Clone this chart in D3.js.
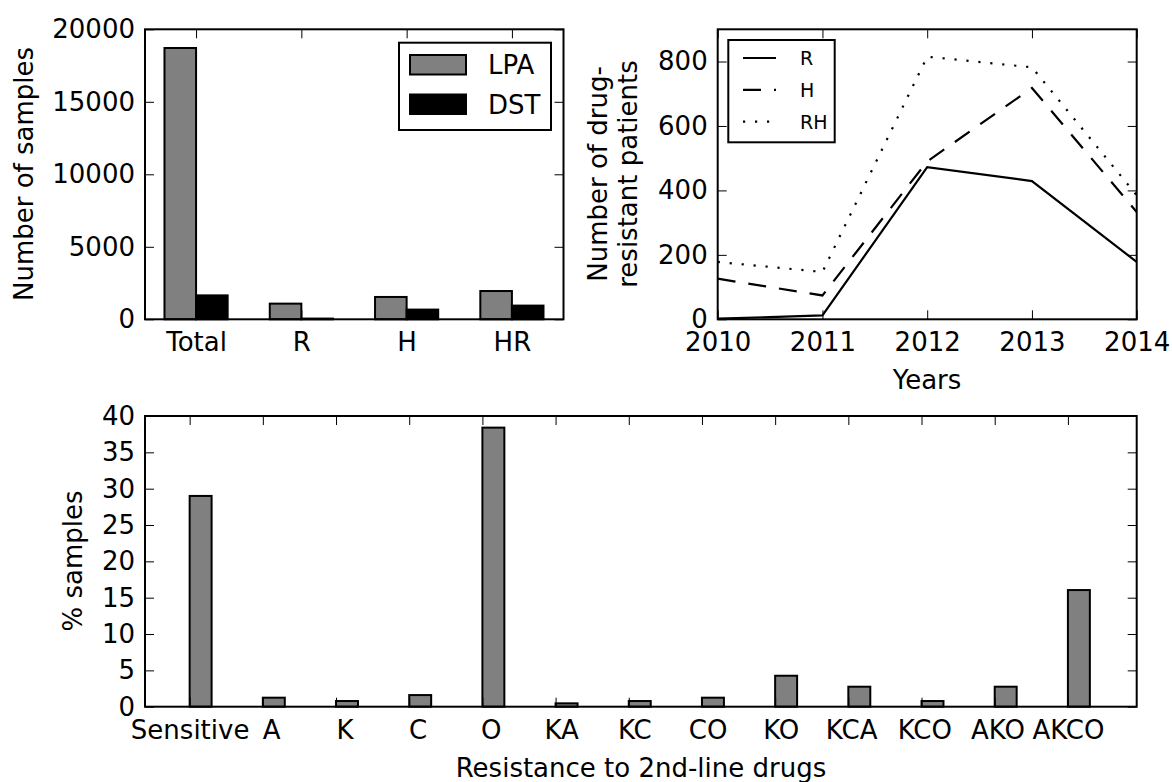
<!DOCTYPE html>
<html>
<head>
<meta charset="utf-8">
<script src="https://cdn.jsdelivr.net/npm/d3@7"></script>
<style>
  body { margin: 0; background: #fff; }
  svg, svg text { font-family: "DejaVu Sans", sans-serif; }
  .tick line { stroke: #000; stroke-width: 1; }
  .tick text { fill: #000; font-size: 26px; }
</style>
</head>
<body>
<svg id="fig" width="1172" height="782"></svg>
<script>
// sample counts per group
const sampleCats = ["Total", "R", "H", "HR"];
const lpaValues = [18710, 1080, 1540, 1950];
const dstValues = [1650, 50, 670, 945];
const sampleTicks = [0, 5000, 10000, 15000, 20000];

// drug-resistant patients per year
const years = [2010, 2011, 2012, 2013, 2014];
const rValues = [2, 12, 472, 429, 178];
const hValues = [126, 74, 490, 718, 333];
const rhValues = [178, 147, 815, 782, 385];
const patientTicks = [0, 200, 400, 600, 800];

// resistance to 2nd-line drugs
const resistCats = ["Sensitive", "A", "K", "C", "O", "KA", "KC", "CO", "KO", "KCA", "KCO", "AKO", "AKCO"];
const resistPct = [29.0, 1.24, 0.78, 1.6, 38.4, 0.46, 0.78, 1.24, 4.26, 2.75, 0.78, 2.75, 16.05];
const pctTicks = [0, 5, 10, 15, 20, 25, 30, 35, 40];

const svg = d3.select("#fig");
const TICK = 9;
const barW = 0.3;

// draws the four-sided matplotlib style frame with inward ticks
function frame(g, x, y, xTicks, yTicks, xFmt) {
  const [x0, x1] = x.range();
  const [y0, y1] = y.range();
  g.append("g").attr("transform", `translate(0,${y0})`)
    .call(d3.axisBottom(x).tickValues(xTicks).tickSize(-TICK).tickPadding(13.5).tickFormat(xFmt));
  g.append("g").attr("transform", `translate(0,${y1})`)
    .call(d3.axisTop(x).tickValues(xTicks).tickSize(-TICK).tickFormat(""));
  g.append("g").attr("transform", `translate(${x0},0)`)
    .call(d3.axisLeft(y).tickValues(yTicks).tickSize(-TICK).tickPadding(10).tickFormat(d3.format("d")));
  g.append("g").attr("transform", `translate(${x1},0)`)
    .call(d3.axisRight(y).tickValues(yTicks).tickSize(-TICK).tickFormat(""));
  g.selectAll(".domain").remove();
  // drop the axis defaults (sans-serif, 10px) so the css font applies
  g.selectAll("g").attr("font-family", null).attr("font-size", null);
}

function box(g, x, y) {
  const [x0, x1] = x.range();
  const [y0, y1] = y.range();
  g.append("rect")
    .attr("x", x0).attr("y", y1)
    .attr("width", x1 - x0).attr("height", y0 - y1)
    .attr("fill", "none").attr("stroke", "#000").attr("stroke-width", 2);
}

// ---------- top left: number of samples ----------
{
  const g = svg.append("g");
  const x = d3.scaleLinear().domain([-0.185, 3.79]).range([145, 563.5]);
  const y = d3.scaleLinear().domain([0, 20000]).range([319.3, 29.3]);

  g.selectAll(".lpa").data(lpaValues).join("rect")
    .attr("x", (d, i) => x(i)).attr("width", (d, i) => x(i + barW) - x(i))
    .attr("y", d => y(d)).attr("height", d => y(0) - y(d))
    .attr("fill", "#808080").attr("stroke", "#000").attr("stroke-width", 2);
  g.selectAll(".dst").data(dstValues).join("rect")
    .attr("x", (d, i) => x(i + barW)).attr("width", (d, i) => x(i + 2 * barW) - x(i + barW))
    .attr("y", d => y(d)).attr("height", d => y(0) - y(d))
    .attr("fill", "#000").attr("stroke", "#000").attr("stroke-width", 2);

  frame(g, x, y, sampleCats.map((d, i) => i + barW), sampleTicks, (d, i) => sampleCats[i]);
  box(g, x, y);

  g.append("text")
    .attr("transform", "translate(32.5,174) rotate(-90)")
    .attr("text-anchor", "middle").attr("font-size", 26)
    .text("Number of samples");

  // legend
  const lg = g.append("g");
  lg.append("rect").attr("x", 399).attr("y", 42.7).attr("width", 152).attr("height", 87.3)
    .attr("fill", "#fff").attr("stroke", "#000").attr("stroke-width", 2);
  const items = [["LPA", "#808080", 55, 74], ["DST", "#000", 94.5, 113.5]];
  items.forEach(([name, col, top, base]) => {
    lg.append("rect").attr("x", 410).attr("y", top).attr("width", 56).attr("height", 19.5)
      .attr("fill", col).attr("stroke", "#000").attr("stroke-width", 2);
    lg.append("text").attr("x", 488).attr("y", base).attr("font-size", 26).text(name);
  });
}

// ---------- top right: drug-resistant patients ----------
{
  const g = svg.append("g");
  const x = d3.scaleLinear().domain([2010, 2014]).range([717.7, 1136.7]);
  const y = d3.scaleLinear().domain([0, 900]).range([319.3, 29.3]);

  g.append("clipPath").attr("id", "clipLine")
    .append("rect").attr("x", 717.7).attr("y", 29.3).attr("width", 419).attr("height", 290);

  const series = [
    { name: "R", values: rValues, dash: null },
    { name: "H", values: hValues, dash: "18,13" },
    { name: "RH", values: rhValues, dash: "2.2,9.8" }
  ];
  const line = d3.line().x((d, i) => x(years[i])).y(d => y(d));
  g.selectAll(".series").data(series).join("path")
    .attr("d", s => line(s.values))
    .attr("fill", "none").attr("stroke", "#000").attr("stroke-width", 2.2)
    .attr("stroke-dasharray", s => s.dash)
    .attr("clip-path", "url(#clipLine)");

  frame(g, x, y, years, patientTicks, d3.format("d"));
  box(g, x, y);

  const yl = g.append("text")
    .attr("transform", "translate(607,174) rotate(-90)")
    .attr("text-anchor", "middle").attr("font-size", 26);
  yl.append("tspan").attr("x", 0).attr("dy", 0).text("Number of drug-");
  yl.append("tspan").attr("x", 0).attr("dy", 30).text("resistant patients");

  g.append("text").attr("x", 927).attr("y", 389)
    .attr("text-anchor", "middle").attr("font-size", 26).text("Years");

  // legend
  const lg = g.append("g");
  lg.append("rect").attr("x", 728.3).attr("y", 40).attr("width", 106.4).attr("height", 102.3)
    .attr("fill", "#fff").attr("stroke", "#000").attr("stroke-width", 2);
  series.forEach((s, i) => {
    const ly = 58 + i * 31.8;
    lg.append("line").attr("x1", 743).attr("x2", 776).attr("y1", ly).attr("y2", ly)
      .attr("stroke", "#000").attr("stroke-width", 2.2).attr("stroke-dasharray", s.dash);
    lg.append("text").attr("x", 800).attr("y", ly + 7).attr("font-size", 19).text(s.name);
  });
}

// ---------- bottom: resistance to 2nd-line drugs ----------
{
  const g = svg.append("g");
  const x = d3.scaleLinear().domain([-0.61, 12.94]).range([145, 1136.7]);
  const y = d3.scaleLinear().domain([0, 40]).range([706.7, 416]);

  g.selectAll(".pct").data(resistPct).join("rect")
    .attr("x", (d, i) => x(i)).attr("width", (d, i) => x(i + barW) - x(i))
    .attr("y", d => y(d)).attr("height", d => y(0) - y(d))
    .attr("fill", "#808080").attr("stroke", "#000").attr("stroke-width", 2);

  frame(g, x, y, resistCats.map((d, i) => i), pctTicks, (d, i) => resistCats[i]);
  // short labels sit slightly right of their tick, as in the original
  g.selectAll(".tick text").filter(function () { return resistCats.includes(this.textContent); })
    .attr("dx", function () { return Math.max(0, 4 - this.textContent.length) * 2.8; });
  box(g, x, y);

  g.append("text")
    .attr("transform", "translate(82,561) rotate(-90)")
    .attr("text-anchor", "middle").attr("font-size", 26)
    .text("% samples");

  g.append("text").attr("x", 641).attr("y", 777)
    .attr("text-anchor", "middle").attr("font-size", 26).text("Resistance to 2nd-line drugs");
}
</script>
</body>
</html>
